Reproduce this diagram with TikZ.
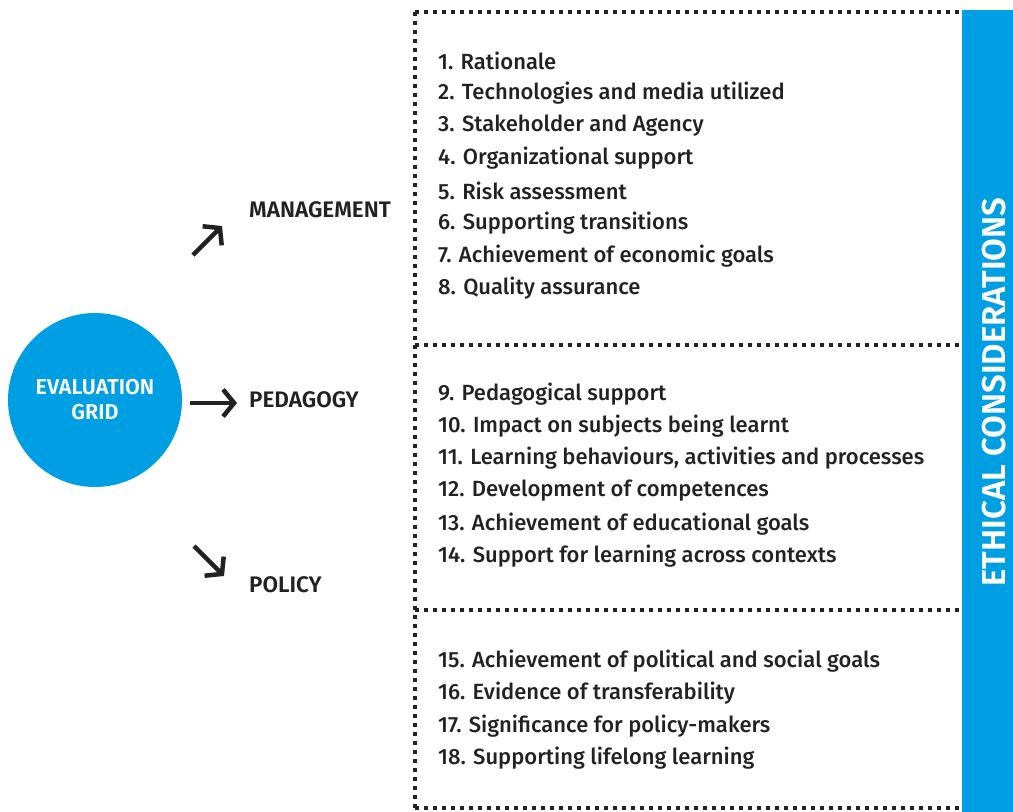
\documentclass[tikz,border=0pt]{standalone}
\usepackage{fontspec}
\setmainfont{Fira Sans}[UprightFont=* Medium,BoldFont=* SemiBold]
\usetikzlibrary{arrows.meta}
\definecolor{gridblue}{HTML}{009FE3}
\definecolor{ink}{HTML}{222222}
\tikzset{
  item/.style={anchor=west,inner sep=0pt,text=ink,font=\fontsize{22}{22}\selectfont},
  head/.style={anchor=west,inner sep=0pt,text=ink,font=\bfseries\fontsize{22.5}{22.5}\selectfont},
  dots/.style={line width=4pt,dash pattern=on 4pt off 5pt,ink},
  pointer/.style={line width=4.5pt,ink,-{Straight Barb[length=11pt,width=27pt,line width=4.5pt]}}
}
\begin{document}
\begin{tikzpicture}[x=1pt,y=-1pt]
	\useasboundingbox (0,0) rectangle (1013,812);
	% blue band on the right
	\fill[gridblue] (962,10) rectangle (1013,812);
	\node[rotate=90,inner sep=0pt,text=white,font=\bfseries\fontsize{33}{33}\selectfont] (ethics) at (994,392) {ETHICAL CONSIDERATIONS};
	% dotted frame
	\draw[dots] (415,12) -- (960,12);
	\draw[dots] (415,12) -- (415,808);
	\draw[dots] (415,345) -- (960,345);
	\draw[dots] (415,610) -- (960,610);
	\draw[dots] (415,808) -- (960,808);
	% circle
	\node[circle,fill=gridblue,minimum size=174pt,inner sep=0pt,text=white,align=center,
	      font=\bfseries\fontsize{21.5}{25}\selectfont] (grid) at (95,400) {EVALUATION\\GRID};
	% arrows
	\coordinate (m0) at (193,255); \coordinate (m1) at (222,226);
	\coordinate (p0) at (190,403); \coordinate (p1) at (237,403);
	\coordinate (q0) at (194,546); \coordinate (q1) at (224,576);
	\draw[pointer] (m0) -- (m1);
	\draw[pointer] (p0) -- (p1);
	\draw[pointer] (q0) -- (q1);
	\node[head] (management) at (249,210) {MANAGEMENT};
	\node[head] (pedagogy) at (249,400) {PEDAGOGY};
	\node[head] (policy) at (249,585) {POLICY};
	% items
	\node[item] (i1) at (438,61) {1. Rationale};
	\node[item] (i2) at (438,93) {2. Technologies and media utilized};
	\node[item] (i3) at (438,126) {3. Stakeholder and Agency};
	\node[item] (i4) at (438,158) {4. Organizational support};
	\node[item] (i5) at (438,191) {5. Risk assessment};
	\node[item] (i6) at (438,223) {6. Supporting transitions};
	\node[item] (i7) at (438,256) {7. Achievement of economic goals};
	\node[item] (i8) at (438,288) {8. Quality assurance};
	\node[item] (i9) at (438,394) {9. Pedagogical support};
	\node[item] (i10) at (438,426) {10. Impact on subjects being learnt};
	\node[item] (i11) at (438,458) {11. Learning behaviours, activities and processes};
	\node[item] (i12) at (438,491) {12. Development of competences};
	\node[item] (i13) at (438,524) {13. Achievement of educational goals};
	\node[item] (i14) at (438,556) {14. Support for learning across contexts};
	\node[item] (i15) at (438,661) {15. Achievement of political and social goals};
	\node[item] (i16) at (438,693) {16. Evidence of transferability};
	\node[item] (i17) at (438,726) {17. Significance for policy-makers};
	\node[item] (i18) at (438,758) {18. Supporting lifelong learning};
\end{tikzpicture}
\end{document}
